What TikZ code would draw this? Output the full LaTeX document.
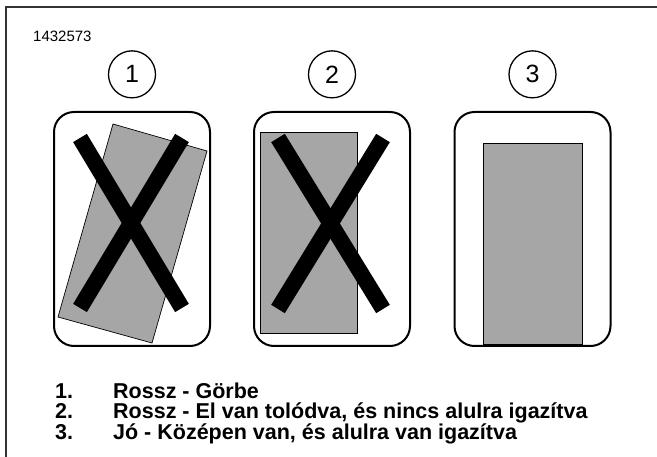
\documentclass[tikz,border=0pt]{standalone}
\usepackage{fontspec}
\setmainfont{Liberation Sans}
\usetikzlibrary{positioning}
\definecolor{sheetgray}{HTML}{A6A6A6}
\definecolor{framegray}{HTML}{333333}

\begin{document}
\begin{tikzpicture}[x=1pt, y=-1pt, node distance=12.5pt]

% --- Style Definitions ---
% Rounded panes (tray outlines)
\tikzstyle{pane_node}=[rectangle, rounded corners=20pt, draw=black, line width=2pt, minimum width=156pt, minimum height=234pt, inner sep=0pt]
% Numbered circles above the panes
\tikzstyle{num_node}=[circle, draw=black, line width=1.3pt, minimum size=47pt, inner sep=0pt, font=\fontsize{25}{25}\selectfont]
% Gray sheet and the big cross
\tikzstyle{sheet}=[fill=sheetgray, draw=black, line width=0.7pt]
\tikzstyle{cross}=[line width=16pt, line cap=butt]
% Legend text
\tikzstyle{legend_node}=[anchor=base west, inner sep=0pt, font=\fontsize{21.5}{24}\selectfont\bfseries]

\useasboundingbox (0,0) rectangle (657,457);

% --- Frame and figure number ---
\draw[framegray, line width=1.2pt] (6,457) -- (6,7) -- (657,7);
\node[anchor=base west, inner sep=0pt, font=\fontsize{15}{16}\selectfont] (FigId) at (33,41.7) {1432573};

% --- 1. Panes ---
\node[pane_node] (Pane1) at (132,229) {};
\node[pane_node] (Pane2) at (332,229) {};
\node[pane_node] (Pane3) at (532.5,229) {};

\node[num_node, above=of Pane1] (Num1) {1};
\node[num_node, above=of Pane2] (Num2) {2};
\node[num_node, above=of Pane3] (Num3) {3};

% --- 2. Sheets ---
\draw[sheet] (113,124) -- (207,151) -- (152,343) -- (58,317) -- cycle;
\draw[sheet] (260,132) rectangle (357,333);
\draw[sheet] (483,143) rectangle (582,344);

% --- 3. Crosses on the wrong ones ---
\draw[cross] (80,138) -- (182,308);
\draw[cross] (182,138) -- (80,308);
\draw[cross] (278,138) -- (383,309);
\draw[cross] (383,138) -- (278,309);

% --- 4. Legend ---
\node[legend_node] (Item1Num) at (55,399) {1.};
\node[legend_node] (Item1) at (113,399) {Rossz - Görbe};
\node[legend_node] (Item2Num) at (55,419) {2.};
\node[legend_node] (Item2) at (113,419) {Rossz - El van tolódva, és nincs alulra igazítva};
\node[legend_node] (Item3Num) at (55,439) {3.};
\node[legend_node] (Item3) at (113,439) {Jó - Középen van, és alulra van igazítva};

\end{tikzpicture}
\end{document}
